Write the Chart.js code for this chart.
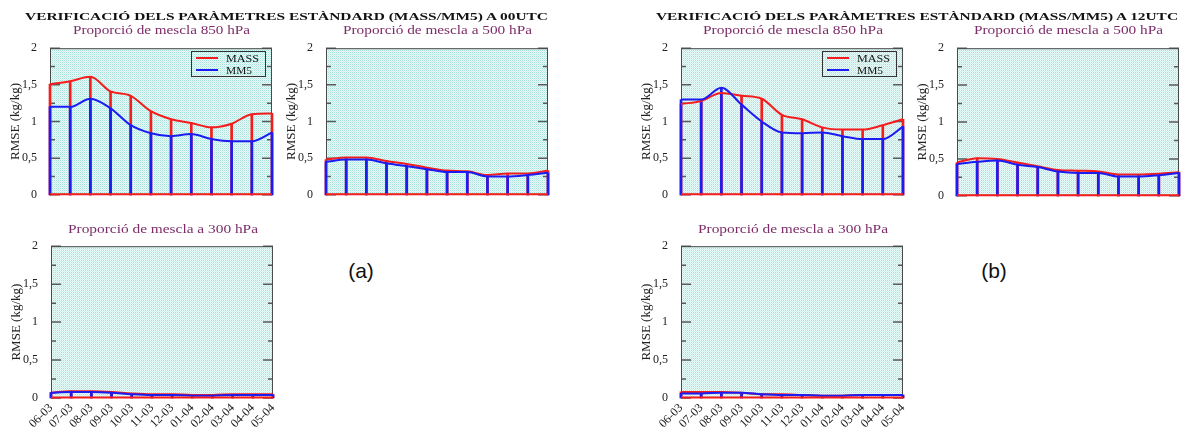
<!DOCTYPE html>
<html><head><meta charset="utf-8">
<script src="https://cdn.jsdelivr.net/npm/chart.js@4.4.1/dist/chart.umd.min.js"></script>
<style>
html,body{margin:0;padding:0;background:#fff;}
body{width:1187px;height:428px;position:relative;overflow:hidden;}
canvas{position:absolute;}
.txt{position:absolute;white-space:nowrap;transform-origin:0 50%;}
.leg{position:absolute;border:1px solid #333;box-sizing:border-box;}
.legline{position:absolute;height:2px;}
</style></head><body>
<script>
// ---------------- data ----------------
const months = ['06-03','07-03','08-03','09-03','10-03','11-03','12-03','01-04','02-04','03-04','04-04','05-04'];
const yTicks = [0, 0.5, 1, 1.5, 2];
const seriesNames = ['MASS', 'MM5'];

const mass00_850 = [1.51,1.55,1.61,1.41,1.35,1.14,1.03,0.98,0.92,0.97,1.10,1.11];
const mm5_00_850 = [1.20,1.20,1.31,1.18,0.95,0.84,0.80,0.83,0.76,0.73,0.73,0.85];
const mass00_500 = [0.48,0.51,0.51,0.46,0.42,0.37,0.33,0.32,0.27,0.29,0.29,0.33];
const mm5_00_500 = [0.45,0.48,0.48,0.43,0.39,0.35,0.31,0.31,0.25,0.25,0.27,0.30];
const mass00_300 = [0.07,0.09,0.09,0.08,0.06,0.05,0.05,0.04,0.04,0.05,0.05,0.05];
const mm5_00_300 = [0.07,0.08,0.08,0.07,0.05,0.04,0.04,0.03,0.03,0.04,0.04,0.04];

const mass12_850 = [1.24,1.28,1.39,1.35,1.31,1.09,1.03,0.92,0.89,0.89,0.95,1.03];
const mm5_12_850 = [1.30,1.30,1.46,1.23,1.00,0.85,0.84,0.85,0.80,0.76,0.76,0.93];
const mass12_500 = [0.45,0.51,0.50,0.45,0.40,0.35,0.34,0.33,0.29,0.29,0.30,0.32];
const mm5_12_500 = [0.43,0.46,0.48,0.42,0.39,0.33,0.31,0.31,0.26,0.26,0.28,0.31];
const mass12_300 = [0.08,0.08,0.08,0.07,0.05,0.05,0.04,0.03,0.03,0.04,0.04,0.04];
const mm5_12_300 = [0.06,0.06,0.07,0.07,0.05,0.04,0.04,0.03,0.03,0.04,0.04,0.04];

const mainTitles = ['VERIFICACIÓ DELS PARÀMETRES ESTÀNDARD (MASS/MM5) A 00UTC',
                    'VERIFICACIÓ DELS PARÀMETRES ESTÀNDARD (MASS/MM5) A 12UTC'];
const subTitles = ['Proporció de mescla 850 hPa','Proporció de mescla a 500 hPa','Proporció de mescla a 300 hPa'];
const yTitle = 'RMSE (kg/kg)';
const panelTags = ['(a)','(b)'];

// ---------------- styling ----------------
const RED = '#f41c1c', BLUE = '#1c1cf2';
const SERIF = '"Liberation Serif", "Times New Roman", serif';

function makePattern(){
  const c = document.createElement('canvas'); c.width = 2; c.height = 2;
  const g = c.getContext('2d');
  g.fillStyle = '#eafaf8'; g.fillRect(0,0,2,2);
  g.fillStyle = '#a6e2da'; g.fillRect(0,0,1,1);
  g.fillStyle = '#cfefeb'; g.fillRect(1,1,1,1);
  return g.createPattern(c, 'repeat');
}
const bgPattern = makePattern();

const framePlugin = {
  id: 'frame',
  beforeDatasetsDraw(chart){
    const {ctx, chartArea:a} = chart;
    const y = chart.scales.y;
    ctx.save();
    ctx.fillStyle = bgPattern;
    ctx.fillRect(a.left, a.top, a.right - a.left, a.bottom - a.top);
    ctx.strokeStyle = '#5a5a5a'; ctx.lineWidth = 1.5;
    const marks = [];
    yTicks.forEach((v,i)=>{ marks.push([v,10]); if (i < yTicks.length-1) marks.push([(v+yTicks[i+1])/2,5]); });
    marks.forEach(([v,len])=>{
      const py = y.getPixelForValue(v);
      ctx.beginPath();
      ctx.moveTo(a.left, py); ctx.lineTo(a.left+len, py);
      ctx.moveTo(a.right-len, py); ctx.lineTo(a.right, py);
      ctx.stroke();
    });
    ctx.strokeStyle = '#4a4a4a'; ctx.lineWidth = 1;
    ctx.strokeRect(a.left+0.5, a.top+0.5, a.right-a.left-1, a.bottom-a.top-1);
    ctx.restore();
  },
  afterDatasetsDraw(chart){
    const {ctx, chartArea:a} = chart;
    const py = chart.scales.y.getPixelForValue(0);
    ctx.save();
    ctx.strokeStyle = RED; ctx.lineWidth = 2;
    ctx.beginPath(); ctx.moveTo(a.left, py-0.5); ctx.lineTo(a.right, py-0.5); ctx.stroke();
    ctx.restore();
  }
};

const panels = [
  {L:50,  T:46,  H:153, mass:mass00_850, mm5:mm5_00_850, sub:0, labels:false, legend:true,  subW:177, subX:161.5, subY:29},
  {L:326, T:46,  H:153, mass:mass00_500, mm5:mm5_00_500, sub:1, labels:false, legend:false, subW:189, subX:437.5, subY:29},
  {L:51,  T:244, H:154, mass:mass00_300, mm5:mm5_00_300, sub:2, labels:true,  legend:false, subW:190, subX:163,   subY:228},
  {L:681, T:46,  H:153, mass:mass12_850, mm5:mm5_12_850, sub:0, labels:false, legend:true,  subW:180, subX:793,   subY:29},
  {L:957, T:46,  H:154, mass:mass12_500, mm5:mm5_12_500, sub:1, labels:false, legend:false, subW:189, subX:1068.5,subY:29},
  {L:681, T:244, H:154, mass:mass12_300, mm5:mm5_12_300, sub:2, labels:true,  legend:false, subW:190, subX:792.7, subY:228},
];
const PW = 222, YW = 42, PADT = 10, PADR = 8, XH = 30;

function addText(str, cx, cy, targetW, fontSize, font, color, weight){
  const d = document.createElement('div');
  d.className = 'txt';
  d.textContent = str;
  d.style.font = (weight||'normal') + ' ' + fontSize + 'px ' + font;
  d.style.lineHeight = fontSize + 'px';
  d.style.color = color;
  document.body.appendChild(d);
  const w = d.getBoundingClientRect().width;
  const sx = targetW ? targetW / w : 1;
  const tw = targetW || w;
  d.style.left = (cx - tw/2) + 'px';
  d.style.top = (cy - fontSize/2) + 'px';
  d.style.transform = 'scaleX(' + sx + ')';
  return d;
}

panels.forEach(p=>{
  const bottomH = p.labels ? XH : 8;
  const cv = document.createElement('canvas');
  const cw = YW + PW + PADR, ch = PADT + p.H + bottomH;
  cv.width = cw; cv.height = ch;
  cv.style.width = cw + 'px'; cv.style.height = ch + 'px';
  cv.style.left = (p.L - YW) + 'px';
  cv.style.top = (p.T - PADT) + 'px';
  document.body.appendChild(cv);
  new Chart(cv, {
    type: 'line',
    data: {
      labels: months,
      datasets: [
        {type:'bar', data:p.mass, backgroundColor:RED, barThickness:2, grouped:false, order:4, clip:3},
        {type:'bar', data:p.mm5, backgroundColor:BLUE, barThickness:2, grouped:false, order:3, clip:3},
        {type:'line', label:seriesNames[0], data:p.mass, borderColor:RED, borderWidth:2, pointRadius:0, order:2, clip:3, cubicInterpolationMode:'monotone'},
        {type:'line', label:seriesNames[1], data:p.mm5, borderColor:BLUE, borderWidth:2, pointRadius:0, order:1, clip:3, cubicInterpolationMode:'monotone'}
      ]
    },
    options: {
      responsive: false, animation: false,
      layout: {padding: {left:0, top:PADT, right:PADR, bottom: p.labels ? 0 : bottomH}},
      plugins: {legend:{display:false}, tooltip:{enabled:false}},
      scales: {
        x: {
          type:'category', offset:false, display: p.labels,
          grid:{display:false}, border:{display:false},
          ticks:{display:true, autoSkip:false, minRotation:45, maxRotation:45, padding:-5,
                 font:{family:SERIF, size:12}, color:'#222'},
          afterFit(s){ s.height = p.labels ? XH : 0; }
        },
        y: {
          min:0, max:2,
          grid:{display:false}, border:{display:false},
          afterBuildTicks(s){ s.ticks = yTicks.map(v=>({value:v})); },
          ticks:{padding:5, font:{family:SERIF, size:12}, color:'#222',
                 callback:(v)=>String(v).replace('.', ',')},
          title:{display:true, text:yTitle, font:{family:SERIF, size:13}, color:'#222', padding:{top:0,bottom:0}},
          afterFit(s){ s.width = YW; }
        }
      }
    },
    plugins: [framePlugin]
  });

  addText(subTitles[p.sub], p.subX, p.subY, p.subW, 13, SERIF, '#7c2c68');

  if (p.legend){
    const bx = p.L + 141, by = p.T + 4.5;
    const box = document.createElement('div');
    box.className = 'leg';
    box.style.left = bx + 'px'; box.style.top = by + 'px';
    box.style.width = '75px'; box.style.height = '26px';
    document.body.appendChild(box);
    [[RED, 7.5, seriesNames[0], 33], [BLUE, 19.5, seriesNames[1], 26]].forEach(([col, dy, name, tw])=>{
      const ln = document.createElement('div');
      ln.className = 'legline';
      ln.style.background = col;
      ln.style.left = (bx + 5) + 'px'; ln.style.width = '22px';
      ln.style.top = (by + dy - 1) + 'px';
      document.body.appendChild(ln);
      addText(name, bx + 35 + tw/2, by + dy, tw, 11, SERIF, '#111');
    });
  }
});

addText(mainTitles[0], 286.5, 16, 523, 11, SERIF, '#111', 'bold');
addText(mainTitles[1], 917, 16, 522, 11, SERIF, '#111', 'bold');
addText(panelTags[0], 361, 270, 0, 21, '"Liberation Sans", Arial, sans-serif', '#111');
addText(panelTags[1], 994, 270, 0, 21, '"Liberation Sans", Arial, sans-serif', '#111');
</script>
</body></html>
